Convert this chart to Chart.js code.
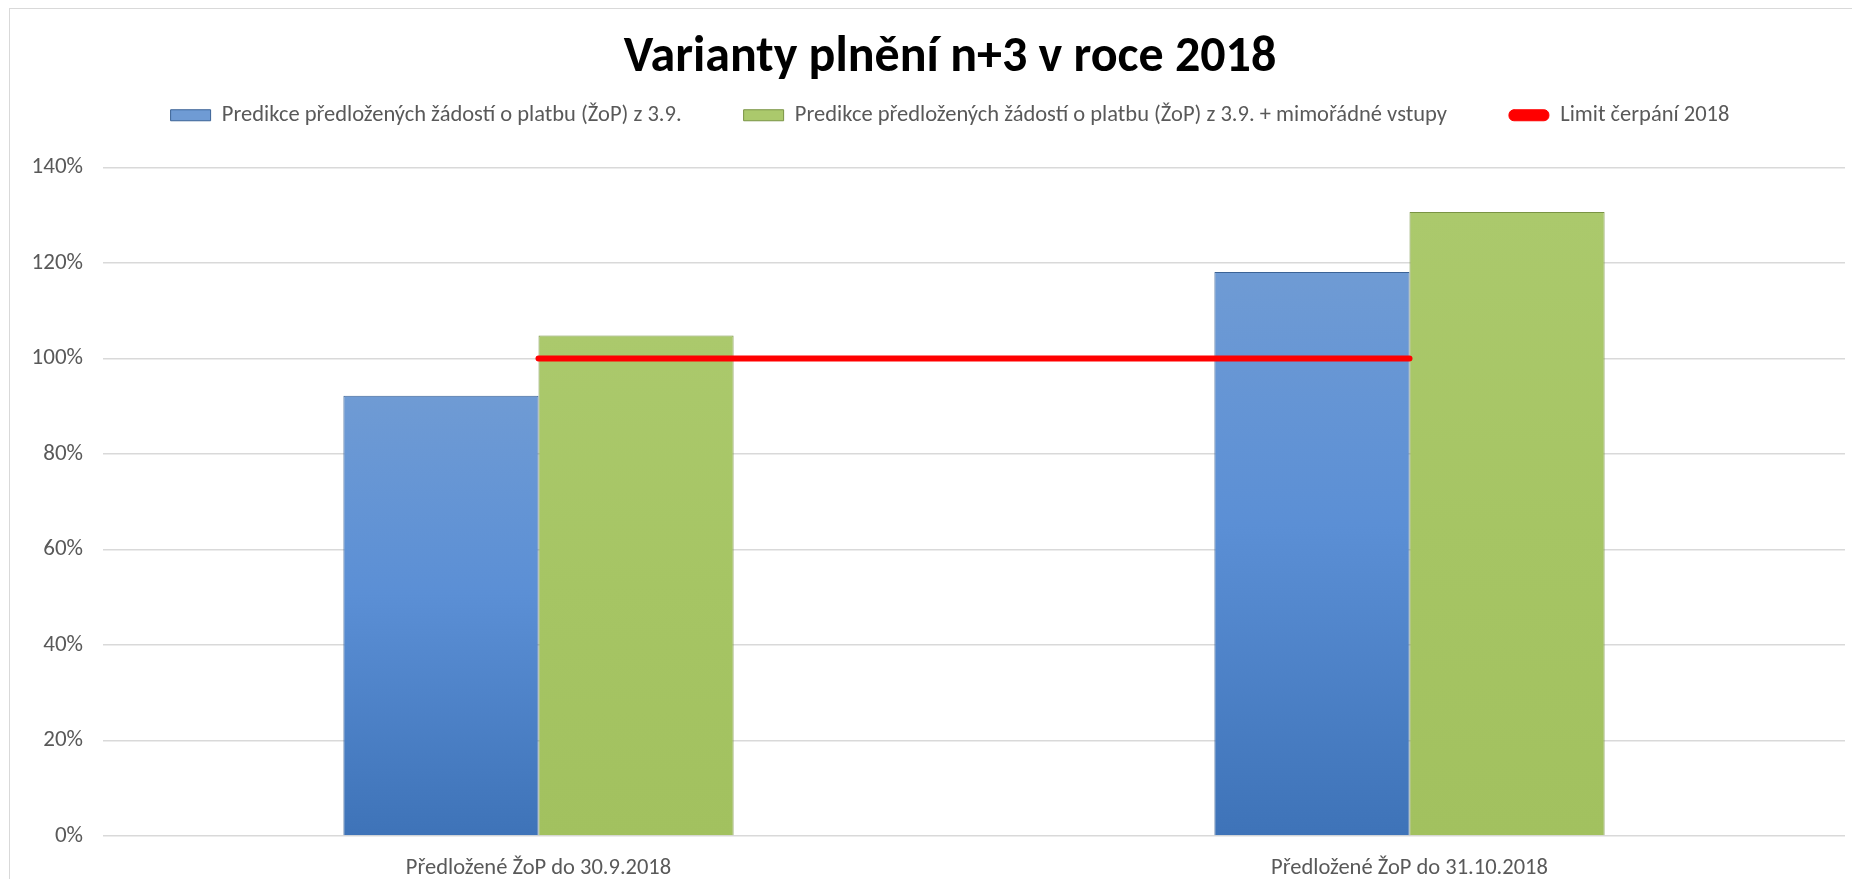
<!DOCTYPE html>
<html>
<head>
<meta charset="utf-8">
<script src="https://cdn.jsdelivr.net/npm/chart.js@4.4.0/dist/chart.umd.min.js"></script>
<style>
  html, body { margin:0; padding:0; width:1852px; height:879px; overflow:hidden; background:#fff; }
  #frame { position:absolute; left:9px; top:8px; width:1890px; height:900px; border:1px solid #d9d9d9; }
  #wrap { position:absolute; left:0; top:0; width:1880px; height:880px; }
</style>
</head>
<body>
<div id="frame"><div id="wrap"><canvas id="chart"></canvas></div></div>
<script>
const categories = ['Předložené ŽoP do 30.9.2018', 'Předložené ŽoP do 31.10.2018'];
const predikce = [92.2, 118.1];
const predikceMimoradne = [104.8, 130.7];
const limit = [100, 100];
const yTicks = [0, 20, 40, 60, 80, 100, 120, 140];

const FONT = 'Carlito, Lato, sans-serif';
const GREY = '#595959';

// vertical shading per bar, like the Excel bevel fill
function barFill(stops, flat) {
  return function(ctx) {
    const chart = ctx.chart;
    if (!chart.chartArea || !ctx.parsed) return flat;
    const y = chart.scales.y;
    const top = y.getPixelForValue(ctx.parsed.y), bottom = y.getPixelForValue(0);
    const g = chart.ctx.createLinearGradient(0, top, 0, bottom);
    stops.forEach(s => g.addColorStop(s[0], s[1]));
    return g;
  };
}

const defaultLabels = Chart.defaults.plugins.legend.labels.generateLabels;

new Chart(document.getElementById('chart'), {
  type: 'bar',
  data: {
    labels: categories,
    datasets: [
      {
        type: 'line',
        label: 'Limit čerpání 2018',
        data: limit,
        borderColor: '#ff0000',
        backgroundColor: '#ff0000',
        borderWidth: 6,
        borderCapStyle: 'round',
        pointRadius: 0,
        order: 0
      },
      {
        label: 'Predikce předložených žádostí o platbu (ŽoP) z 3.9.',
        data: predikce,
        backgroundColor: barFill([[0, '#6f9bd4'], [0.45, '#5b8fd5'], [1, '#3e73b8']], '#5b8fd3'),
        borderColor: '#3b6396',
        borderWidth: 1,
        order: 1
      },
      {
        label: 'Predikce předložených žádostí o platbu (ŽoP) z 3.9. + mimořádné vstupy',
        data: predikceMimoradne,
        backgroundColor: barFill([[0, '#abc96c'], [0.5, '#a6c564'], [1, '#a2c15f']], '#a6c564'),
        borderColor: '#7a9444',
        borderWidth: 1,
        order: 1
      }
    ]
  },
  options: {
    responsive: true,
    maintainAspectRatio: false,
    animation: false,
    categoryPercentage: 0.448,
    barPercentage: 1.0,
    plugins: {
      title: {
        display: true,
        text: 'Varianty plnění n+3 v roce 2018',
        color: '#000',
        font: { family: FONT, size: 50, weight: 'bold' },
        padding: { top: 19, bottom: -46 }
      },
      legend: {
        display: true,
        position: 'top',
        labels: {
          color: GREY,
          font: { family: FONT, size: 22.5 },
          boxWidth: 40,
          boxHeight: 11,
          padding: 62,
          useBorderRadius: true,
          sort: (a, b) => (a.datasetIndex === 0) - (b.datasetIndex === 0),
          generateLabels: chart => defaultLabels(chart).map(it => Object.assign(it, {
            lineWidth: 1,
            borderRadius: it.datasetIndex === 0 ? 5 : 0
          }))
        }
      },
      tooltip: { enabled: false }
    },
    scales: {
      x: {
        grid: { display: false, drawTicks: false },
        border: { display: false },
        ticks: { color: GREY, font: { family: FONT, size: 22.5 }, padding: 19 },
        afterFit: s => { s.height = 53; }
      },
      y: {
        min: 0,
        max: 140,
        grid: { color: '#d9d9d9', lineWidth: 1.5, drawTicks: false },
        border: { display: false },
        afterBuildTicks: s => { s.ticks = yTicks.map(v => ({ value: v })); },
        ticks: { color: GREY, font: { family: FONT, size: 23 }, padding: 20, callback: v => v + '%' },
        afterFit: s => { s.width = 93; }
      },
      // empty right margin of the plot area (the chart is cut at the right)
      yRight: {
        position: 'right',
        grid: { display: false, drawTicks: false },
        border: { display: false },
        ticks: { display: false },
        afterFit: s => { s.width = 45; }
      }
    }
  },
  plugins: [{
    id: 'legendGap',
    beforeInit(chart) {
      const fit = chart.legend.fit;
      chart.legend.fit = function() { fit.call(this); this.height += 31; };
    }
  }]
});
</script>
</body>
</html>
